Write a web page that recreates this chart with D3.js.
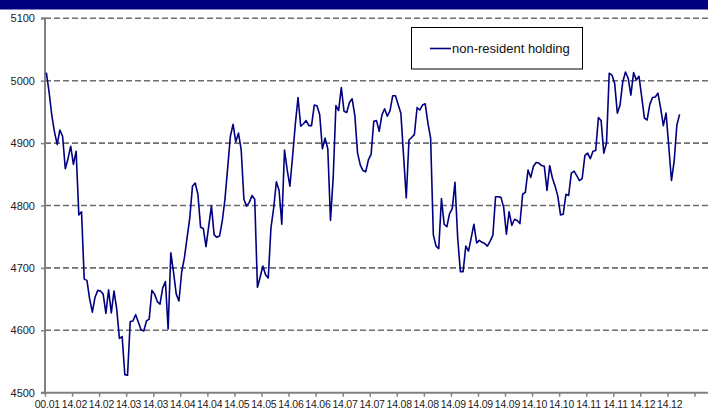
<!DOCTYPE html>
<html>
<head>
<meta charset="utf-8">
<script src="https://cdn.jsdelivr.net/npm/d3@7"></script>
<style>
  html, body { margin: 0; padding: 0; background: #fff; }
  svg { display: block; }
  text { font-family: "Liberation Sans", Arial, sans-serif; }
</style>
</head>
<body>
<svg id="chart" width="708" height="412"></svg>
<script>
// ---- data ----
const seriesName = "non-resident holding";
const yTicks = [4500, 4600, 4700, 4800, 4900, 5000, 5100];
const xLabels = ["00.01","14.02","14.02","14.03","14.03","14.04","14.04","14.05","14.05","14.06","14.06","14.07",
                 "14.07","14.08","14.08","14.09","14.09","14.09","14.10","14.10","14.11","14.11","14.12","14.12"];
const labelEvery = 10;     // one label / tick every 10 categories
const categoryCount = 245; // categories on the axis
const values = [
  5013,4982,4945,4918,4898,4921,4911,4859,4875,4895,
  4866,4887,4785,4790,4682,4680,4650,4629,4653,4664,
  4663,4658,4627,4665,4628,4663,4634,4587,4590,4529,
  4528,4614,4615,4625,4613,4601,4599,4615,4618,4664,
  4658,4646,4642,4668,4678,4602,4724,4693,4658,4647,
  4693,4716,4748,4780,4831,4836,4818,4765,4763,4734,
  4767,4799,4753,4749,4751,4775,4810,4860,4911,4930,
  4902,4916,4889,4810,4799,4805,4816,4810,4669,4685,
  4703,4689,4684,4764,4796,4838,4824,4770,4889,4857,
  4831,4879,4930,4973,4927,4931,4936,4928,4928,4961,
  4960,4946,4891,4908,4891,4776,4845,4960,4952,4989,
  4951,4949,4965,4971,4944,4884,4865,4856,4854,4873,
  4882,4935,4936,4919,4945,4955,4943,4952,4976,4976,
  4962,4948,4880,4812,4905,4909,4914,4957,4953,4961,
  4963,4932,4908,4753,4735,4731,4811,4770,4766,4787,
  4795,4837,4748,4694,4694,4735,4727,4748,4770,4740,
  4744,4741,4739,4735,4743,4752,4814,4814,4813,4797,
  4754,4790,4768,4778,4776,4771,4818,4821,4857,4845,
  4863,4869,4868,4864,4863,4824,4864,4844,4831,4815,
  4785,4786,4818,4816,4852,4855,4848,4840,4843,4880,
  4884,4875,4887,4888,4941,4936,4884,4900,5012,5009,
  4996,4948,4961,4998,5014,5004,4977,5013,5001,5007,
  4974,4940,4937,4962,4973,4974,4980,4956,4928,4948,
  4895,4840,4871,4929,4946
];

// ---- layout ----
const svg = d3.select("#chart");
const W = 708, H = 412;
const plot = { left: 45, right: 708, top: 18.3, bottom: 392.7 };

const x = d3.scaleLinear().domain([0, categoryCount]).range([plot.left, plot.right]);
const y = d3.scaleLinear().domain([4500, 5100]).range([plot.bottom, plot.top]);

// top band
svg.append("rect").attr("x", 0).attr("y", 0).attr("width", W).attr("height", 9.5).attr("fill", "#000080");

// gridlines
svg.append("g").selectAll("line").data(yTicks.filter(v => v > 4500)).join("line")
  .attr("x1", plot.left).attr("x2", plot.right)
  .attr("y1", d => y(d)).attr("y2", d => y(d))
  .attr("stroke", "#6e6e6e").attr("stroke-width", 1.6).attr("stroke-dasharray", "6,3");

// y axis
const yAxis = d3.axisLeft(y).tickValues(yTicks).tickSize(4).tickPadding(6).tickFormat(d3.format("d"));
const gy = svg.append("g").attr("transform", `translate(${plot.left},0)`).call(yAxis);
gy.select(".domain").attr("stroke", "#808080").attr("stroke-width", 2).attr("d", `M-4,${plot.top}H0V${plot.bottom}H-4`);
gy.selectAll(".tick line").attr("stroke", "#808080").attr("stroke-width", 1.5);
gy.selectAll(".tick text").attr("font-size", 11).attr("fill", "#222").attr("font-family", "Liberation Sans, Arial, sans-serif");

// x axis: ticks at category boundaries
const tickIdx = d3.range(0, categoryCount, labelEvery);
const xAxis = d3.axisBottom(x).tickValues(tickIdx).tickSize(4).tickFormat("");
const gx = svg.append("g").attr("transform", `translate(0,${plot.bottom})`).call(xAxis);
gx.select(".domain").attr("stroke", "#808080").attr("stroke-width", 2).attr("d", `M${plot.left},0H${plot.right}`);
gx.selectAll(".tick line").attr("stroke", "#808080").attr("stroke-width", 1.5);

// x labels at the labelled categories
svg.append("g").selectAll("text").data(xLabels).join("text")
  .attr("x", (d, i) => x(i * labelEvery + 0.5) + 1)
  .attr("y", 408)
  .attr("text-anchor", "middle")
  .attr("font-size", 10.5)
  .attr("letter-spacing", -0.2)
  .attr("fill", "#222")
  .text(d => d);

// line
const line = d3.line().x((d, i) => x(i + 0.5)).y(d => y(d));
svg.append("path").datum(values).attr("d", line)
  .attr("fill", "none").attr("stroke", "#000080").attr("stroke-width", 1.6).attr("stroke-linejoin", "round");

// legend
const lg = svg.append("g");
lg.append("rect").attr("x", 411.5).attr("y", 27.5).attr("width", 171).attr("height", 41.5)
  .attr("fill", "#fff").attr("stroke", "#000").attr("stroke-width", 1);
lg.append("line").attr("x1", 430).attr("x2", 451).attr("y1", 48.5).attr("y2", 48.5)
  .attr("stroke", "#000080").attr("stroke-width", 1.6);
lg.append("text").attr("x", 452).attr("y", 53).attr("font-size", 13).attr("fill", "#111").text(seriesName);
</script>
</body>
</html>
